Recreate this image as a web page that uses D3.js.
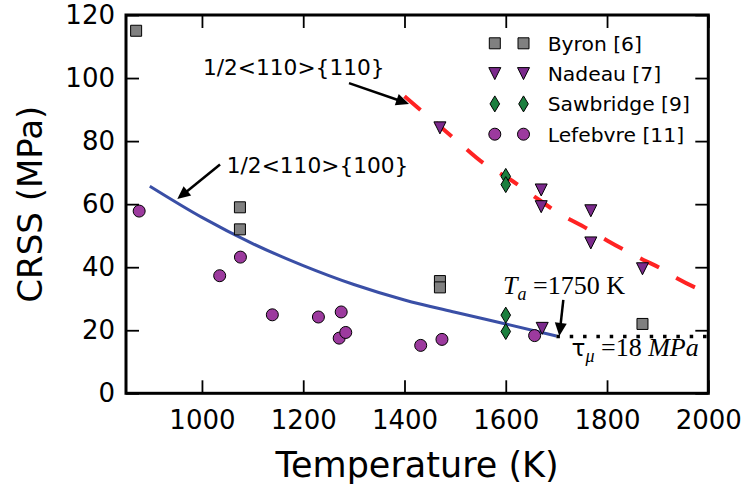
<!DOCTYPE html>
<html><head><meta charset="utf-8">
<script src="https://cdn.jsdelivr.net/npm/d3@7"></script>
<style>body{margin:0;background:#fff}svg{display:block}</style>
</head><body>
<svg id="c" width="746" height="489"></svg>
<script>
// ---- data ----
const xTicks = [1000, 1200, 1400, 1600, 1800, 2000];
const yTicks = [0, 20, 40, 60, 80, 100, 120];
const byron = [[870,115],[1075,59],[1075,52],[1470,35.6],[1470,33.6],[1870,22]];
const nadeau = [[1470,84.2],[1670,64.5],[1670,59.2],[1768,57.9],[1768,47.7],[1870,39.5],[1672,20.6]];
const sawbridge = [[1600,68.8],[1600,66.2],[1600,24.8],[1600,19.6]];
const lefebvre = [[876,57.8],[1035,37.3],[1076,43.2],[1139,24.9],[1230,24.2],[1275,25.8],[1271,17.5],[1284,19.3],[1432,15.2],[1474,17.1],[1657,18.3]];
const curve100 = [[897,65.7],[1000,55.8],[1100,47.5],[1200,40.5],[1300,34.5],[1400,29.6],[1500,25.7],[1600,22],[1700,18.2]];
const curve110 = [[1400,94.2],[1500,80.6],[1556,73.0],[1608,67.9],[1661,61.9],[1700,57.6],[1760,52.3],[1800,48.5],[1872,42.3],[1905,39.7],[1938,36.5],[2000,31.7]];
const plateau = [[1700,18],[2000,18]];
const legendLabels = ["Byron [6]", "Nadeau [7]", "Sawbridge [9]", "Lefebvre [11]"];

const svg = d3.select("#c");
const L = 126, R = 708.3, T = 15, B = 393.3;
const x = d3.scaleLinear().domain([850, 2000]).range([L, R]);
const y = d3.scaleLinear().domain([0, 120]).range([B, T]);
const SANS = "DejaVu Sans", SERIF = "Liberation Serif";

// marker shapes
const shapes = {
  square: (s) => `M${-s/2},${-s/2}h${s}v${s}h${-s}Z`,
  tri: (s) => `M${-s/2},${-s/2}L${s/2},${-s/2}L0,${s/2}Z`,
  diamond: (s) => `M0,${-s/2}L${0.3*s},0L0,${s/2}L${-0.3*s},0Z`,
  circle: (s) => d3.arc()({innerRadius:0, outerRadius:s/2, startAngle:0, endAngle:2*Math.PI})
};
const series = [
  {data: byron, shape: "square", size: 11, fill: "#808080"},
  {data: nadeau, shape: "tri", size: 12, fill: "#7b2a8c"},
  {data: sawbridge, shape: "diamond", size: 16, fill: "#1b7f3e"},
  {data: lefebvre, shape: "circle", size: 12, fill: "#9c3a9e"}
];

svg.append("defs").append("clipPath").attr("id","clip")
  .append("rect").attr("x",L).attr("y",T).attr("width",R-L).attr("height",B-T);

// axes ticks
const fmt = d3.format("d");
svg.append("g").attr("transform",`translate(0,${B})`)
  .call(d3.axisBottom(x).tickValues(xTicks).tickSize(-13).tickPadding(17).tickFormat(fmt));
svg.append("g").attr("transform",`translate(${L},0)`)
  .call(d3.axisLeft(y).tickValues(yTicks).tickSize(-13).tickPadding(11).tickFormat(fmt));
svg.append("g").attr("transform",`translate(0,${T})`)
  .call(d3.axisTop(x).tickValues(xTicks).tickSize(-13).tickFormat(""));
svg.append("g").attr("transform",`translate(${R},0)`)
  .call(d3.axisRight(y).tickValues(yTicks).tickSize(-13).tickFormat(""));
svg.selectAll(".domain").remove();
svg.selectAll(".tick line").attr("stroke","#000").attr("stroke-width",1.8);
svg.selectAll(".tick text").attr("font-family",SANS).attr("font-size",26).attr("fill","#000");

// lines
const line = d3.line().x(d=>x(d[0])).y(d=>y(d[1])).curve(d3.curveMonotoneX);
const lg = svg.append("g").attr("clip-path","url(#clip)");
lg.append("path").attr("d",line(curve100)).attr("fill","none").attr("stroke","#3a4fa6").attr("stroke-width",3);
lg.append("path").attr("d",line(curve110)).attr("fill","none").attr("stroke","#ff2323").attr("stroke-width",4).attr("stroke-dasharray","21,20");
lg.append("path").attr("d",d3.line().x(d=>x(d[0])).y(d=>y(d[1]))(plateau)).attr("fill","none").attr("stroke","#000").attr("stroke-width",3.5).attr("stroke-dasharray","3.5,9.83");

// markers
series.forEach(s => {
  svg.append("g").selectAll("path").data(s.data).join("path")
    .attr("d", shapes[s.shape](s.size))
    .attr("transform", d=>`translate(${x(d[0])},${y(d[1])})`)
    .attr("fill", s.fill).attr("stroke","#000").attr("stroke-width",1);
});

// spines
svg.append("rect").attr("x",L).attr("y",T).attr("width",R-L).attr("height",B-T)
  .attr("fill","none").attr("stroke","#000").attr("stroke-width",3);

// axis labels
svg.append("text").attr("x",(L+R)/2).attr("y",477).attr("text-anchor","middle")
  .attr("font-family",SANS).attr("font-size",35).text("Temperature (K)");
svg.append("text").attr("transform",`translate(42,${(T+B)/2}) rotate(-90)`).attr("text-anchor","middle")
  .attr("font-family",SANS).attr("font-size",34).text("CRSS (MPa)");

// legend
const leg = svg.append("g");
series.forEach((s,i) => {
  const cy = T + 28.3 + i*30.3;
  [R-213.5, R-184.8].forEach(cx => {
    leg.append("path").attr("d",shapes[s.shape](s.size)).attr("transform",`translate(${cx},${cy})`)
      .attr("fill",s.fill).attr("stroke","#000").attr("stroke-width",1);
  });
  leg.append("text").attr("x",R-160.6).attr("y",cy+7.4).attr("font-family",SANS).attr("font-size",20.3).text(legendLabels[i]);
});

// annotations
function arrow(p0, p1) {
  const x0=x(p0[0]), y0=y(p0[1]), x1=x(p1[0]), y1=y(p1[1]);
  const dx=x1-x0, dy=y1-y0, len=Math.hypot(dx,dy), ux=dx/len, uy=dy/len;
  const hl=13, hw=6;
  const bx=x1-ux*hl, by=y1-uy*hl;
  svg.append("line").attr("x1",x0).attr("y1",y0).attr("x2",bx+ux*2).attr("y2",by+uy*2)
    .attr("stroke","#000").attr("stroke-width",2.5);
  svg.append("path").attr("d",`M${x1},${y1}L${bx-uy*hw},${by+ux*hw}L${bx+uy*hw},${by-ux*hw}Z`).attr("fill","#000");
}
svg.append("text").attr("x",x(1002)).attr("y",y(101)).attr("font-family",SANS).attr("font-size",21.7).text("1/2<110>{110}");
arrow([1290.4,98.4],[1409,91.8]);
svg.append("text").attr("x",x(1049)).attr("y",y(69.8)).attr("font-family",SANS).attr("font-size",21.7).text("1/2<110>{100}");
arrow([1035.7,72.6],[951.3,61.6]);

const ta = svg.append("text").attr("x",x(1594.6)).attr("y",y(31.6)).attr("font-family",SERIF).attr("font-size",26);
ta.append("tspan").attr("font-style","italic").text("T");
ta.append("tspan").attr("font-style","italic").attr("font-size",18).attr("dy",6).text("a");
ta.append("tspan").attr("dy",-6).text(" =1750 K");
arrow([1713.7,29.6],[1705.8,18.2]);

const tm = svg.append("text").attr("x",x(1730)).attr("y",y(11.8)).attr("font-family",SERIF).attr("font-size",26);
tm.append("tspan").attr("font-family",SANS).attr("font-size",23).text("τ");
tm.append("tspan").attr("font-style","italic").attr("font-size",18).attr("dy",6).text("μ");
tm.append("tspan").attr("dy",-6).text(" =18 ");
tm.append("tspan").attr("font-style","italic").text("MPa");
</script>
</body></html>
